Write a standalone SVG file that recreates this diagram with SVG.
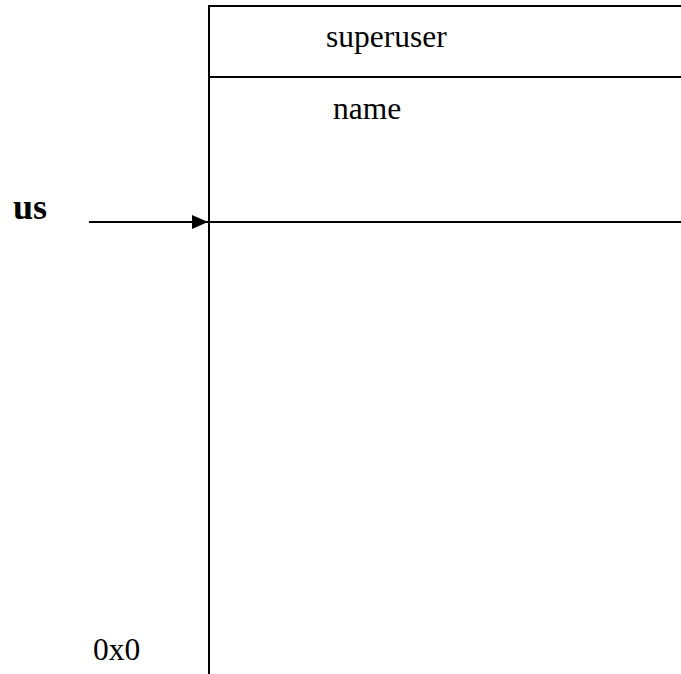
<svg xmlns="http://www.w3.org/2000/svg" width="681" height="674" viewBox="0 0 681 674">
<style>
.ln{stroke:#000;stroke-width:2;fill:none}
.t{font-family:"Liberation Serif","Times New Roman",serif;font-size:31.5px;fill:#000}
.b{font-family:"Liberation Serif","Times New Roman",serif;font-size:36px;font-weight:bold;fill:#000}
</style>
<defs>
<marker id="ah" viewBox="0 0 16 14" refX="16" refY="7" markerWidth="16" markerHeight="14" markerUnits="userSpaceOnUse" orient="auto">
<path d="M0,0 L16,7 L0,14 Z" fill="#000"/>
</marker>
</defs>
<rect width="681" height="674" fill="#fff"/>
<g id="memory">
<line class="ln" x1="209" y1="6" x2="209" y2="674"/>
<line class="ln" x1="208" y1="6" x2="681" y2="6"/>
<line class="ln" x1="208" y1="77" x2="681" y2="77"/>
<line class="ln" x1="208" y1="222" x2="681" y2="222"/>
<text class="t" x="326" y="47">superuser</text>
<text class="t" x="333" y="119">name</text>
</g>
<g id="label_us"><text class="b" x="13" y="219">us</text></g>
<g id="label_0x0"><text class="t" x="93" y="660">0x0</text></g>
<g id="connectors">
<line class="ln" x1="89" y1="222" x2="208" y2="222" marker-end="url(#ah)"/>
</g>
</svg>
